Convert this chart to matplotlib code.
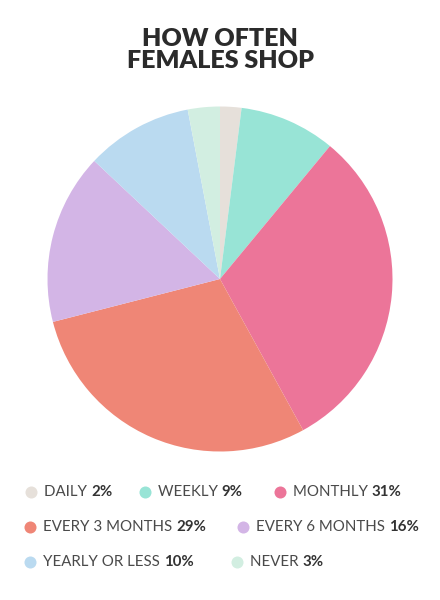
import matplotlib
matplotlib.use("Agg")
import matplotlib.pyplot as plt

labels = ["DAILY", "WEEKLY", "MONTHLY", "EVERY 3 MONTHS", "EVERY 6 MONTHS",
          "YEARLY OR LESS", "NEVER"]
values = [2, 9, 31, 29, 16, 10, 3]
colors = ["#e6e0da", "#98e4d6", "#ec7599", "#ef8676", "#d3b5e6",
          "#badaf0", "#d2eee1"]
title = "HOW OFTEN\nFEMALES SHOP"

# legend rows: item indices per row and marker x (pixels)
legend_rows = [[0, 1, 2], [3, 4], [5, 6]]
legend_x = [[31, 145, 280], [30, 243], [30, 237]]
legend_y = [492, 527, 562]

W, H = 440, 600
fig = plt.figure(figsize=(W / 100, H / 100), dpi=100)
fig.patch.set_facecolor("white")

fig.text(0.5, 1 - 50 / H, title, ha="center", va="center", fontsize=18,
         fontweight="heavy", family="Lato", color="#2b2b2b", linespacing=1.05)

cx, cy, r = 220, 279, 172.5
ax = fig.add_axes([(cx - r) / W, (H - cy - r) / H, 2 * r / W, 2 * r / H])
ax.pie(values, colors=colors, startangle=90, counterclock=False, radius=1,
       wedgeprops=dict(linewidth=0))
ax.set_xlim(-1, 1)
ax.set_ylim(-1, 1)
ax.set_aspect("equal")
ax.axis("off")

# overlay axes in pixel coordinates for the legend
lax = fig.add_axes([0, 0, 1, 1])
lax.set_xlim(0, W)
lax.set_ylim(H, 0)
lax.axis("off")

fig.canvas.draw()
renderer = fig.canvas.get_renderer()
for row, xs, y in zip(legend_rows, legend_x, legend_y):
    for i, x in zip(row, xs):
        lax.scatter([x], [y], s=75, color=colors[i], linewidths=0)
        t = lax.text(x + 13, y, labels[i] + " ", ha="left", va="center",
                     fontsize=10.8, family="Lato", color="#4a4a4a")
        bb = t.get_window_extent(renderer)
        x_end = lax.transData.inverted().transform((bb.x1, bb.y0))[0]
        lax.text(x_end, y, f"{values[i]}%", ha="left", va="center",
                 fontsize=10.8, family="Lato", fontweight="bold",
                 color="#333333")

fig.savefig("out.png", dpi=100, facecolor="white")
